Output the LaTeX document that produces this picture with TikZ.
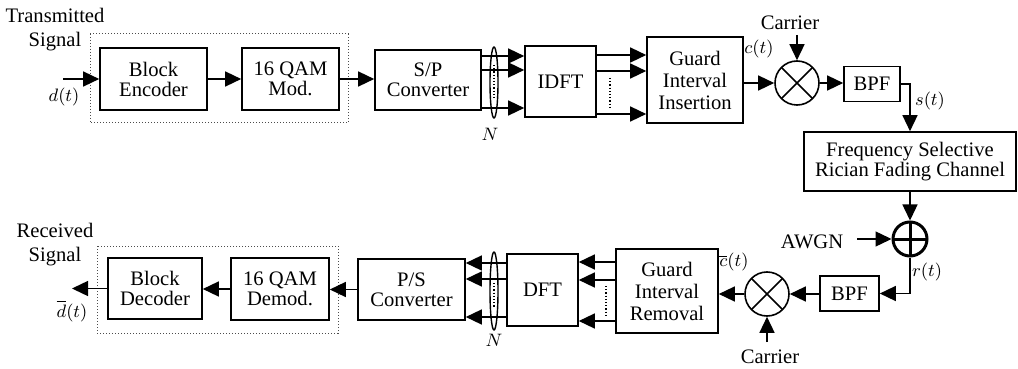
\documentclass[tikz,border=0pt]{standalone}
\usepackage{fontspec}
\setmainfont{Liberation Serif}
\usetikzlibrary{arrows.meta,positioning,calc}

\begin{document}
\begin{tikzpicture}[x=0.5pt,y=-0.5pt,
  every node/.style={font=\fontsize{10.3}{10}\selectfont},
  blk/.style={draw,line width=0.8pt,inner sep=0pt,align=center},
  mix/.style={draw,circle,line width=0.8pt,minimum size=22pt,inner sep=0pt,
    path picture={\draw[line width=0.8pt]
      (path picture bounding box.north west)--(path picture bounding box.south east)
      (path picture bounding box.north east)--(path picture bounding box.south west);}},
  sum/.style={draw,circle,line width=1.5pt,minimum size=17pt,inner sep=0pt,
    path picture={\draw[line width=1.5pt]
      (path picture bounding box.north)--(path picture bounding box.south)
      (path picture bounding box.west)--(path picture bounding box.east);}},
  grp/.style={draw,densely dotted,line width=0.5pt,black!70},
  ar/.style={line width=0.7pt,-{Triangle[length=8pt,width=7.5pt]}},
  ln/.style={line width=0.7pt},
  vd/.style={densely dotted,line width=0.6pt},
  sg/.style={font=\fontsize{9}{9}\selectfont,inner sep=1pt}]
\useasboundingbox (0,0) rectangle (1018,369);
\draw[grp] (90,34) rectangle (348,123);
\draw[grp] (97,246) rectangle (338,333);
\node[blk,minimum width=53.5pt,minimum height=31pt] (enc) at (153.5,79) {Block\\Encoder};
\node[blk,minimum width=48.5pt,minimum height=31pt] (mod) at (290.5,79) {16 QAM\\Mod.};
\node[blk,minimum width=53pt,minimum height=30pt] (sp) at (428,80) {S/P\\Converter};
\node[blk,minimum width=35.5pt,minimum height=35.5pt] (idft) at (560.5,81.5) {IDFT};
\node[blk,minimum width=48pt,minimum height=43pt] (gi) at (695,80)
  {Guard\\[1pt]Interval\\[1pt]Insertion};
\node[mix] (mx1) at (797,83) {};
\node[blk,minimum width=28pt,minimum height=17.5pt] (bpf1) at (872,84) {BPF};
\node[blk,minimum width=106pt,minimum height=29.5pt] (ch) at (910,161.5)
  {Frequency Selective\\Rician Fading Channel};
\node[sum] (add) at (910,239) {};
\node[blk,minimum width=29.5pt,minimum height=17.5pt] (bpf2) at (849.5,293.5) {BPF};
\node[mix] (mx2) at (767,294) {};
\node[blk,minimum width=51pt,minimum height=42pt] (gr) at (667,291)
  {Guard\\[1pt]Interval\\[1pt]Removal};
\node[blk,minimum width=35.5pt,minimum height=36pt] (dft) at (542.5,290) {DFT};
\node[blk,minimum width=53.5pt,minimum height=30.5pt] (ps) at (411.5,289.5) {P/S\\Converter};
\node[blk,minimum width=49pt,minimum height=31pt] (dem) at (280,289) {16 QAM\\Demod.};
\node[blk,minimum width=47pt,minimum height=30.5pt] (dec) at (155,288.5) {Block\\Decoder};
\node[align=center] (tx) at (55,30) {Transmitted\\[2pt]Signal};
\node[align=center] (rx) at (55,245) {Received\\[2pt]Signal};
\coordinate (din) at (63,79);
\coordinate (dout) at (72,288.5);
\node[sg] (dlab) at (64,97) {$d(t)$};
\node[sg] (dolab) at (72,311) {$\overline{d}(t)$};
\coordinate (c1) at (797,35);
\coordinate (c2) at (767,342);
\node (car1) at (790,23) {Carrier};
\node (car2) at (770,357) {Carrier};
\coordinate (nz) at (857,239);
\node (awgn) at (812,242) {AWGN};
\node[sg] (ct) at (759,49) {$c(t)$};
\node[sg] (st) at (930,101) {$s(t)$};
\node[sg] (rt) at (927,272) {$r(t)$};
\node[sg] (cbt) at (734,262) {$\overline{c}(t)$};
\node[sg] (n1) at (490,134) {$N$};
\node[sg] (n2) at (494,340) {$N$};
\draw[ar] (din) -- (enc.west);
\draw[ar] (enc.east) -- (mod.west);
\draw[ar] (mod.east) -- (mod.east -| sp.west);
\foreach \d in {12,5,-14} {\path ([yshift=\d pt]sp.east) coordinate (p);
  \draw[ar] (p) -- (p -| idft.west);}
\foreach \d in {13.25,5.25,-16.25} {\path ([yshift=\d pt]idft.east) coordinate (p);
  \draw[ar] (p) -- (p -| gi.west);}
\draw[ar] (mx1.west -| gi.east) -- (mx1.west);
\draw[ar] (c1) -- (mx1.north);
\draw[ar] (mx1.east) -- (mx1.east -| bpf1.west);
\draw[ar] (bpf1.east) -| (ch.north);
\draw[ar] (ch.south) -- (add.north);
\draw[ar] (nz) -- (add.west);
\draw[ar] (add.south) |- (bpf2.east);
\draw[ar] (mx2.east -| bpf2.west) -- (mx2.east);
\draw[ar] (c2) -- (mx2.south);
\draw[ar] (mx2.west) -- (mx2.west -| gr.east);
\foreach \d in {14.5,5.5,-15} {\path ([yshift=\d pt]gr.west) coordinate (p);
  \draw[ar] (p) -- (p -| dft.east);}
\foreach \d in {13.5,5.5,-13.5} {\path ([yshift=\d pt]dft.west) coordinate (p);
  \draw[ar] (p) -- (p -| ps.east);}
\draw[ar] (ps.west) -- (ps.west -| dem.east);
\draw[ar] (dem.west) -- (dem.west -| dec.east);
\draw[ar] (dec.west) -- (dout);
\draw[ln] (494,82.5) ellipse [x radius=2pt,y radius=17.75pt];
\draw[ln] (494,291) ellipse [x radius=2pt,y radius=19.5pt];
\draw[vd] (494,65) -- (494,100);
\draw[vd] (610,78) -- (610,107);
\draw[vd] (494,283) -- (494,308);
\draw[vd] (606,286) -- (606,317);
\end{tikzpicture}
\end{document}
